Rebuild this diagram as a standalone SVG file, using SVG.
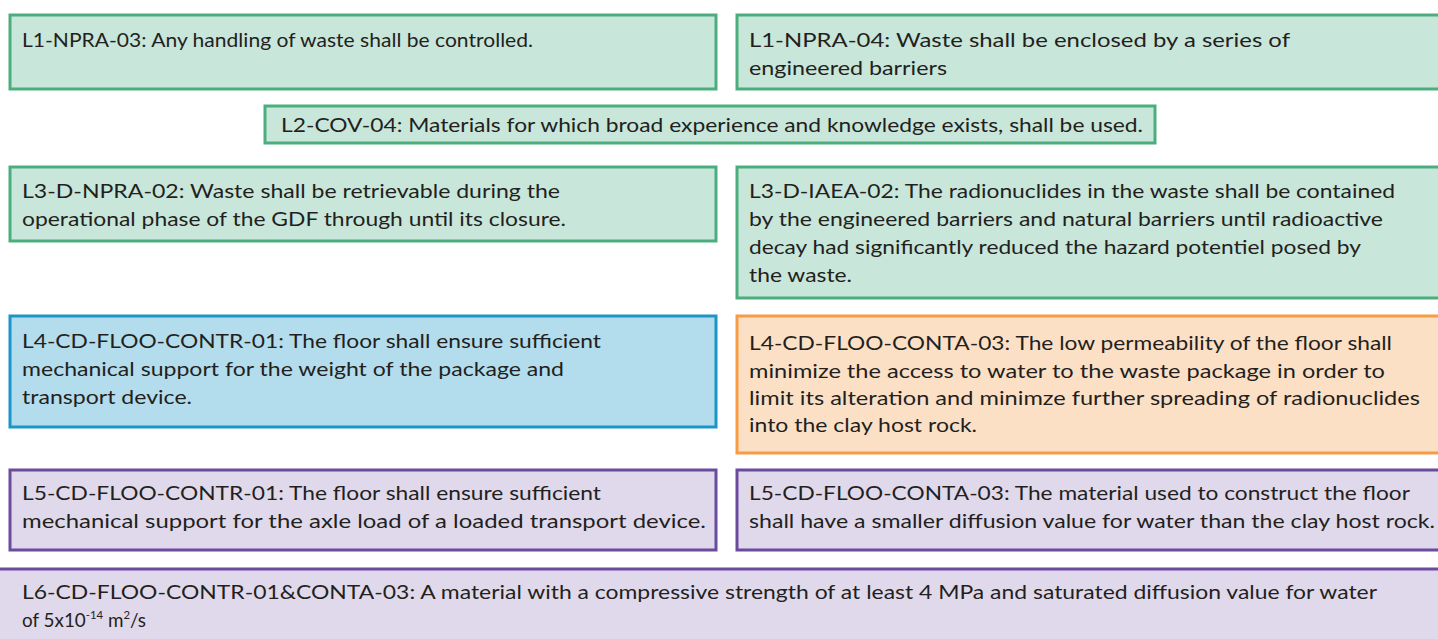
<svg xmlns="http://www.w3.org/2000/svg" width="1438" height="639" viewBox="0 0 1438 639">
<style>
rect{stroke-width:3}
.g{fill:#c8e6da;stroke:#4cae7f}
.b{fill:#b3dcec;stroke:#1a96c8}
.o{fill:#fce0c6;stroke:#f89b45}
.p{fill:#e0d9eb;stroke:#6a4b9e}
text{font-family:Lato,"Open Sans","Liberation Sans",sans-serif;font-size:20px;fill:#231f20}
</style>
<rect width="1438" height="639" fill="#ffffff" stroke="none"/>
<g id="connectors"/>
<g id="n1"><rect class="g" x="10" y="15" width="706" height="74"/>
<text x="22" y="47" textLength="511" lengthAdjust="spacingAndGlyphs">L1-NPRA-03: Any handling of waste shall be controlled.</text></g>
<g id="n2"><rect class="g" x="737" y="15" width="705" height="74"/>
<text x="749" y="47" textLength="541" lengthAdjust="spacingAndGlyphs">L1-NPRA-04: Waste shall be enclosed by a series of</text>
<text x="749" y="75" textLength="198" lengthAdjust="spacingAndGlyphs">engineered barriers</text></g>
<g id="n3"><rect class="g" x="265" y="106" width="890" height="37"/>
<text x="281" y="132" textLength="862" lengthAdjust="spacingAndGlyphs">L2-COV-04: Materials for which broad experience and knowledge exists, shall be used.</text></g>
<g id="n4"><rect class="g" x="10" y="167" width="706" height="74"/>
<text x="22" y="198" textLength="538" lengthAdjust="spacingAndGlyphs">L3-D-NPRA-02: Waste shall be retrievable during the</text>
<text x="22" y="226" textLength="544" lengthAdjust="spacingAndGlyphs">operational phase of the GDF through until its closure.</text></g>
<g id="n5"><rect class="g" x="737" y="167" width="705" height="131"/>
<text x="749" y="198" textLength="646" lengthAdjust="spacingAndGlyphs">L3-D-IAEA-02: The radionuclides in the waste shall be contained</text>
<text x="749" y="226" textLength="634" lengthAdjust="spacingAndGlyphs">by the engineered barriers and natural barriers until radioactive</text>
<text x="749" y="254" textLength="612" lengthAdjust="spacingAndGlyphs">decay had significantly reduced the hazard potentiel posed by</text>
<text x="749" y="282" textLength="103" lengthAdjust="spacingAndGlyphs">the waste.</text></g>
<g id="n6"><rect class="b" x="10" y="316" width="706" height="111"/>
<text x="22" y="348" textLength="579" lengthAdjust="spacingAndGlyphs">L4-CD-FLOO-CONTR-01: The floor shall ensure sufficient</text>
<text x="22" y="376" textLength="542" lengthAdjust="spacingAndGlyphs">mechanical support for the weight of the package and</text>
<text x="22" y="404" textLength="170" lengthAdjust="spacingAndGlyphs">transport device.</text></g>
<g id="n7"><rect class="o" x="737" y="316" width="705" height="137"/>
<text x="749" y="350" textLength="643" lengthAdjust="spacingAndGlyphs">L4-CD-FLOO-CONTA-03: The low permeability of the floor shall</text>
<text x="749" y="378" textLength="636" lengthAdjust="spacingAndGlyphs">minimize the access to water to the waste package in order to</text>
<text x="749" y="405" textLength="671" lengthAdjust="spacingAndGlyphs">limit its alteration and minimze further spreading of radionuclides</text>
<text x="749" y="432" textLength="228" lengthAdjust="spacingAndGlyphs">into the clay host rock.</text></g>
<g id="n8"><rect class="p" x="10" y="470" width="706" height="80"/>
<text x="22" y="500" textLength="579" lengthAdjust="spacingAndGlyphs">L5-CD-FLOO-CONTR-01: The floor shall ensure sufficient</text>
<text x="22" y="528" textLength="684" lengthAdjust="spacingAndGlyphs">mechanical support for the axle load of a loaded transport device.</text></g>
<g id="n9"><rect class="p" x="737" y="470" width="705" height="80"/>
<text x="749" y="500" textLength="661" lengthAdjust="spacingAndGlyphs">L5-CD-FLOO-CONTA-03: The material used to construct the floor</text>
<text x="749" y="528" textLength="686" lengthAdjust="spacingAndGlyphs">shall have a smaller diffusion value for water than the clay host rock.</text></g>
<g id="n10"><rect class="p" x="-3" y="569" width="1444" height="80"/>
<text x="22" y="599" textLength="1355" lengthAdjust="spacingAndGlyphs">L6-CD-FLOO-CONTR-01&amp;CONTA-03: A material with a compressive strength of at least 4 MPa and saturated diffusion value for water</text>
<text x="22" y="627" textLength="124" lengthAdjust="spacingAndGlyphs">of 5x10<tspan font-size="12" dy="-8">-14</tspan><tspan dy="8"> m</tspan><tspan font-size="12" dy="-8">2</tspan><tspan dy="8">/s</tspan></text></g>
</svg>
